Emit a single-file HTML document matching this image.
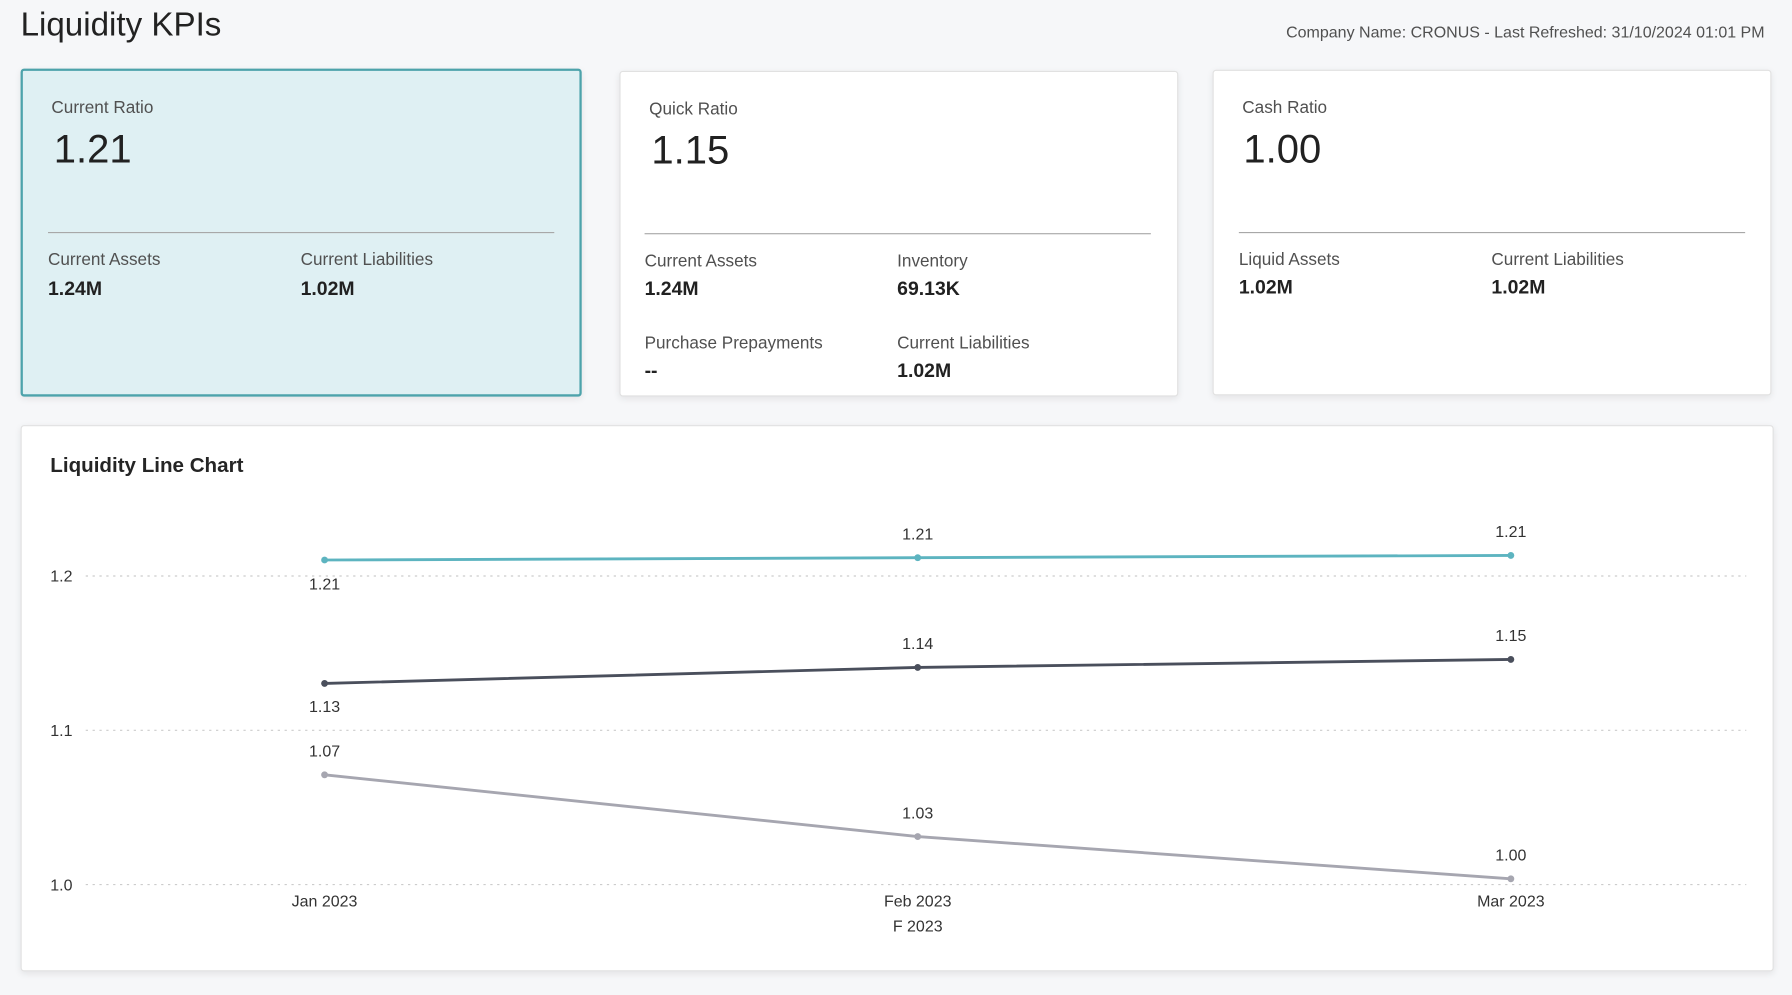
<!DOCTYPE html>
<html><head><meta charset="utf-8"><style>
html,body{margin:0;padding:0;width:1792px;height:995px;overflow:hidden;background:#f6f7f9;}
#w{position:absolute;left:0;top:0;width:1568px;height:871px;transform:scale(1.142857);transform-origin:0 0;font-family:"Liberation Sans",sans-serif;color:#212121;}
.card{position:absolute;background:#fff;border:1px solid #e1e1e1;box-shadow:0 2px 6px rgba(0,0,0,0.08);border-radius:3px;}
.t{position:absolute;font-size:15px;color:#505050;}
.big{position:absolute;font-size:35px;color:#212121;}
.v{position:absolute;font-size:17px;font-weight:bold;color:#212121;}
.hr{position:absolute;height:1px;background:#a8a8a8;}
</style></head><body><div id="w">
<div style="position:absolute;left:18px;top:6px;font-size:29px;color:#222">Liquidity KPIs</div>
<div style="position:absolute;right:24px;top:20px;font-size:14px;color:#505050">Company Name: CRONUS - Last Refreshed: 31/10/2024 01:01 PM</div>

<div class="card" style="left:18px;top:60px;width:487px;height:283px;background:#dff0f3;border:2px solid #4da3ab;">
<div class="t" style="left:25px;top:24px">Current Ratio</div>
<div class="big" style="left:27px;top:49px">1.21</div>
<div class="hr" style="left:22px;top:141px;width:443px"></div>
<div class="t" style="left:22px;top:157px">Current Assets</div><div class="v" style="left:22px;top:181px">1.24M</div>
<div class="t" style="left:243px;top:157px">Current Liabilities</div><div class="v" style="left:243px;top:181px">1.02M</div>
</div>

<div class="card" style="left:542px;top:62px;width:487px;height:283px;">
<div class="t" style="left:25px;top:24px">Quick Ratio</div>
<div class="big" style="left:27px;top:49px">1.15</div>
<div class="hr" style="left:21px;top:141px;width:443px"></div>
<div class="t" style="left:21px;top:157px">Current Assets</div><div class="v" style="left:21px;top:180px">1.24M</div>
<div class="t" style="left:242px;top:157px">Inventory</div><div class="v" style="left:242px;top:180px">69.13K</div>
<div class="t" style="left:21px;top:229px">Purchase Prepayments</div><div class="v" style="left:21px;top:252px">--</div>
<div class="t" style="left:242px;top:229px">Current Liabilities</div><div class="v" style="left:242px;top:252px">1.02M</div>
</div>

<div class="card" style="left:1061px;top:61px;width:487px;height:283px;">
<div class="t" style="left:25px;top:24px">Cash Ratio</div>
<div class="big" style="left:26px;top:49px">1.00</div>
<div class="hr" style="left:22px;top:141px;width:443px"></div>
<div class="t" style="left:22px;top:157px">Liquid Assets</div><div class="v" style="left:22px;top:180px">1.02M</div>
<div class="t" style="left:243px;top:157px">Current Liabilities</div><div class="v" style="left:243px;top:180px">1.02M</div>
</div>

<div class="card" style="left:18px;top:372px;width:1532px;height:476px;"></div>
<div style="position:absolute;left:44px;top:397px;font-size:18px;font-weight:bold;color:#252525">Liquidity Line Chart</div>
<svg style="position:absolute;left:0;top:0" width="1568" height="871" font-family="Liberation Sans, sans-serif" font-size="14" fill="#333">
<g stroke="#ccc" stroke-dasharray="2,4" stroke-width="1">
<line x1="75" y1="504" x2="1528" y2="504"/><line x1="75" y1="639" x2="1528" y2="639"/><line x1="75" y1="774" x2="1528" y2="774"/></g>
<text x="44" y="509">1.2</text><text x="44" y="644">1.1</text><text x="44" y="779">1.0</text>
<polyline fill="none" stroke="#5db4c0" stroke-width="2.5" points="284,490 803,488 1322,486"/>
<polyline fill="none" stroke="#4a4f5c" stroke-width="2.5" points="284,598 803,584 1322,577"/>
<polyline fill="none" stroke="#a6a6b0" stroke-width="2.5" points="284,678 803,732 1322,769"/>
<g fill="#5db4c0"><circle cx="284" cy="490" r="3"/><circle cx="803" cy="488" r="3"/><circle cx="1322" cy="486" r="3"/></g>
<g fill="#4a4f5c"><circle cx="284" cy="598" r="3"/><circle cx="803" cy="584" r="3"/><circle cx="1322" cy="577" r="3"/></g>
<g fill="#a6a6b0"><circle cx="284" cy="678" r="3"/><circle cx="803" cy="732" r="3"/><circle cx="1322" cy="769" r="3"/></g>
<g text-anchor="middle">
<text x="284" y="516">1.21</text><text x="803" y="472">1.21</text><text x="1322" y="470">1.21</text>
<text x="284" y="623">1.13</text><text x="803" y="568">1.14</text><text x="1322" y="561">1.15</text>
<text x="284" y="662">1.07</text><text x="803" y="716">1.03</text><text x="1322" y="753">1.00</text>
<text x="284" y="793">Jan 2023</text><text x="803" y="793">Feb 2023</text><text x="1322" y="793">Mar 2023</text>
<text x="803" y="815">F 2023</text></g>
</svg>
</div></body></html>
